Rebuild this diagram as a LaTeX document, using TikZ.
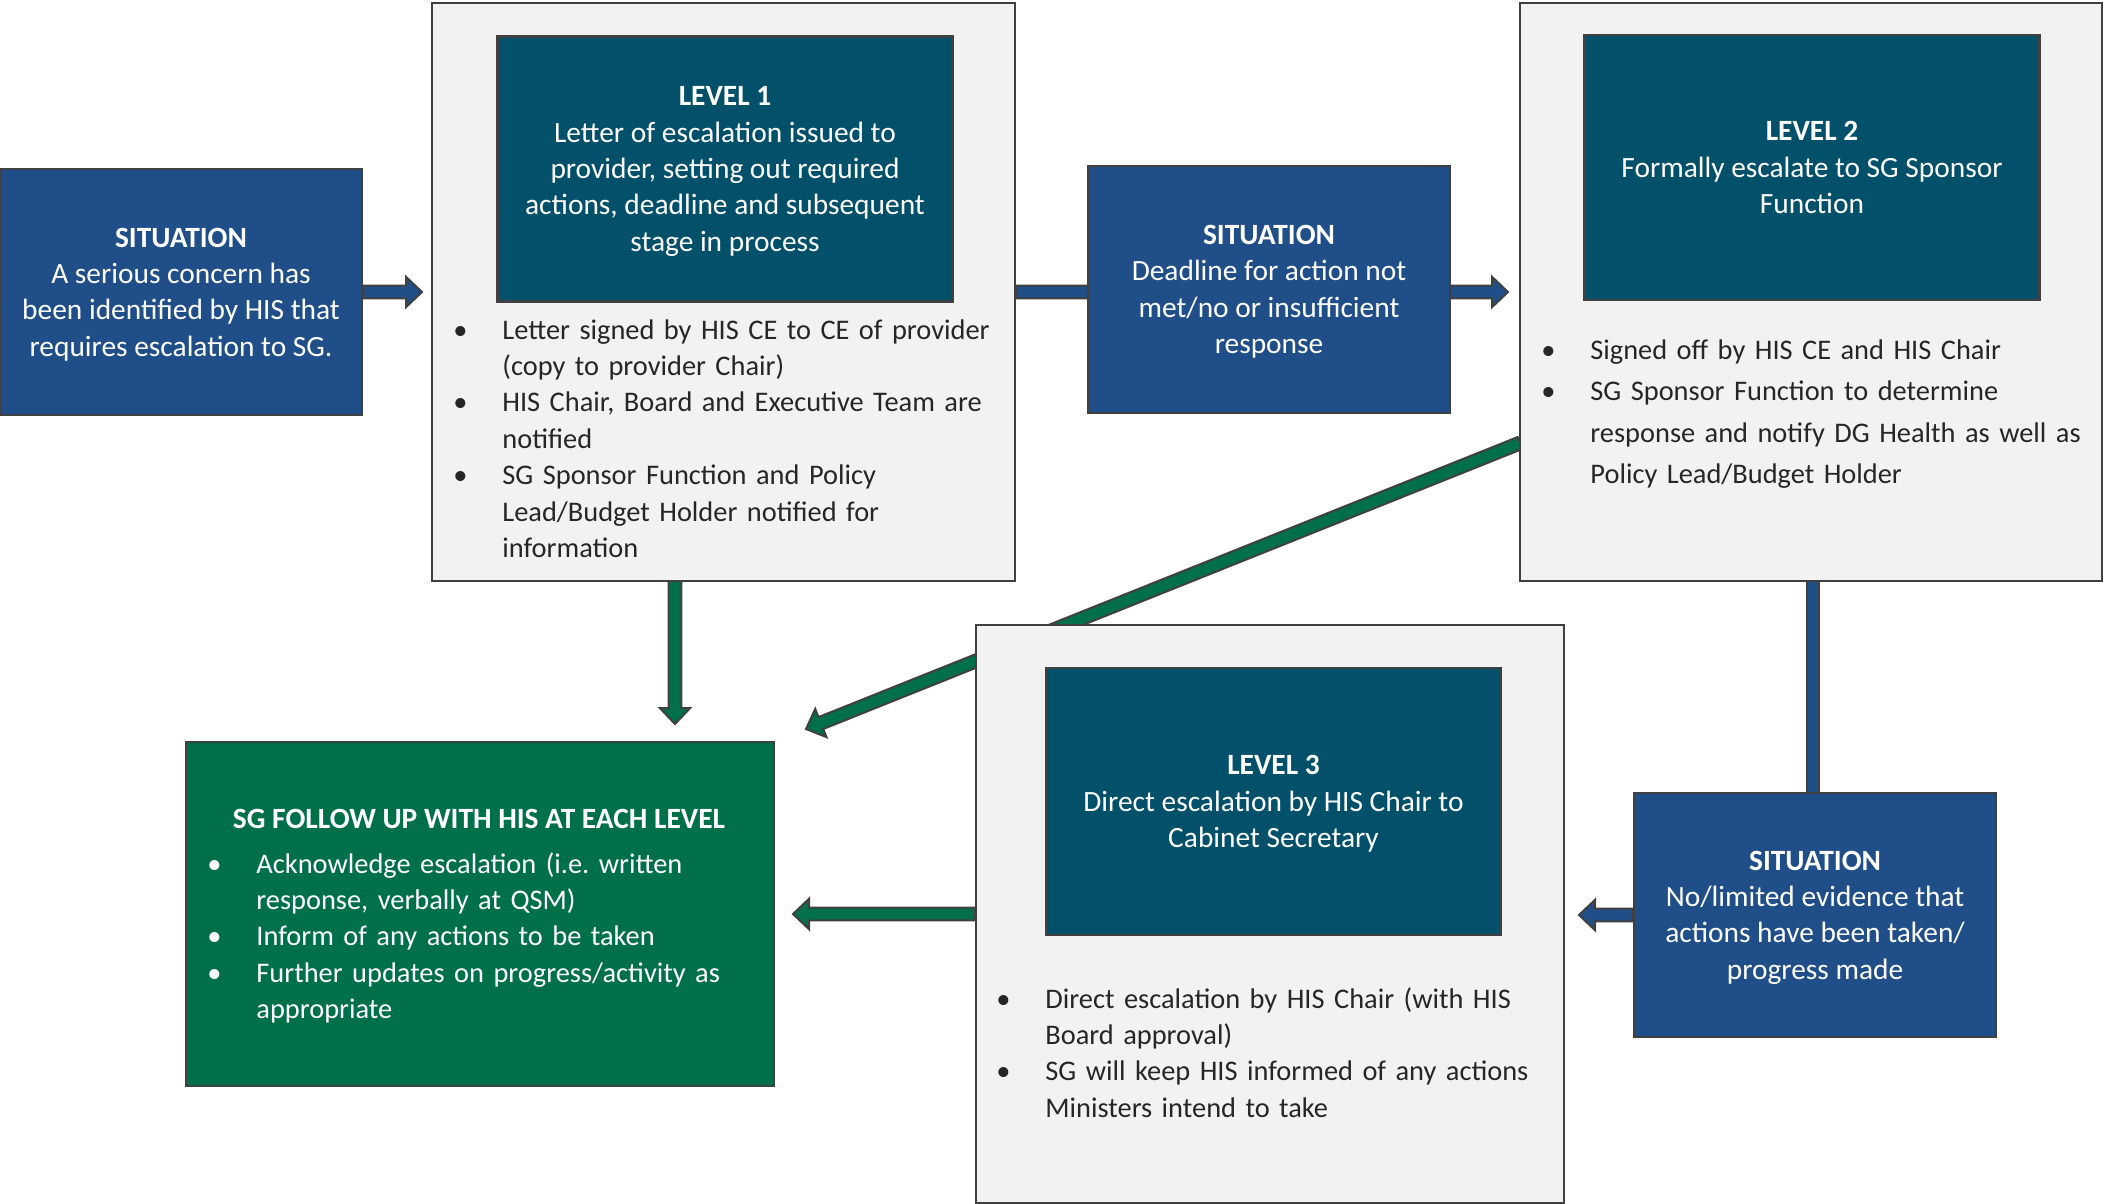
\documentclass[tikz,border=0pt]{standalone}
\usepackage{fontspec}
\setmainfont{Carlito}
\usetikzlibrary{calc,backgrounds}

\definecolor{sitblue}{HTML}{1F4E89}
\definecolor{levteal}{HTML}{03506B}
\definecolor{sggreen}{HTML}{00704A}
\definecolor{panelgrey}{HTML}{F2F2F2}
\definecolor{edgegrey}{HTML}{404040}
\definecolor{bodytext}{HTML}{262626}

\newcommand{\boxfont}{\fontsize{14.7pt}{18.2pt}\selectfont}
\newcommand{\listfont}{\fontsize{14.2pt}{18.2pt}\selectfont}
\newcommand{\bitem}[1]{\noindent\hangindent=21pt\hangafter=1\makebox[21pt][l]{\hspace{-3.5pt}\textbullet}#1\par}
% block arrow: from, tip, fill colour
\newcommand{\blockarrow}[3]{%
  \coordinate (ah) at ($(#2)!8pt!(#1)$);
  \filldraw[arrowedge, fill=#3] ($(#1)!3.2pt!90:(#2)$) -- ($(ah)!3.2pt!-90:(#1)$) -- ($(ah)!7.6pt!-90:(#1)$) -- (#2)
    -- ($(ah)!7.6pt!90:(#1)$) -- ($(ah)!3.2pt!90:(#1)$) -- ($(#1)!3.2pt!-90:(#2)$) -- cycle;}

\begin{document}
\frenchspacing
\begin{tikzpicture}[x=0.5pt,y=-0.5pt,every node/.style={inner sep=0pt,font=\boxfont},
  sitbox/.style={draw=edgegrey,line width=1.25pt,fill=sitblue,text=white,align=center,text depth=0pt,minimum width=181pt},
  levbox/.style={draw=edgegrey,line width=1.25pt,fill=levteal,text=white,align=center,text depth=0pt,minimum width=227.5pt,minimum height=132.5pt},
  panel/.style={draw=edgegrey,line width=1.25pt,fill=panelgrey,minimum height=289pt},
  sgbox/.style={draw=edgegrey,line width=1.25pt,fill=sggreen},
  bullets/.style={anchor=base west,text=bodytext,text width=400pt,font=\listfont},
  arrowedge/.style={draw=edgegrey,line width=1pt,line join=miter}]
 \useasboundingbox (0,0) rectangle (2103,1204);

 \node[sitbox,minimum height=123pt] (s1) at (181,292) {\textbf{SITUATION}\\A serious concern has\\been identified by HIS that\\requires escalation to SG.};

 \node[panel,minimum width=291.5pt] (l1) at (723.5,292) {};
 \node[levbox] (l1t) at (725,169) {\textbf{LEVEL 1}\\Letter of escalation issued to\\provider, setting out required\\actions, deadline and subsequent\\stage in process};
 \node[bullets] (l1b) at (460,339) {%
  \bitem{Letter signed by HIS CE to CE of provider\newline(copy to provider Chair)}%
  \bitem{HIS Chair, Board and Executive Team are\newline notified}%
  \bitem{SG Sponsor Function and Policy\newline Lead/Budget Holder notified for\newline information}};

 \node[sitbox,minimum height=123.5pt] (s2) at (1269,289.5) {\textbf{SITUATION}\\Deadline for action not\\met/no or insufficient\\response};

 \node[panel,minimum width=291pt] (l2) at (1811,292) {};
 \node[levbox] (l2t) at (1812,167.5) {\textbf{LEVEL 2}\\Formally escalate to SG Sponsor\\Function};
 \node[bullets,font=\fontsize{14.2pt}{20.8pt}\selectfont] (l2b) at (1548,359) {%
  \bitem{Signed off by HIS CE and HIS Chair}%
  \bitem{SG Sponsor Function to determine\newline response and notify DG Health as well as\newline Policy Lead/Budget Holder}};

 \node[sgbox,minimum width=294pt,minimum height=172pt] (sg) at (480,914) {};
 \node[text=white] (sgh) at (479,819) {\textbf{SG FOLLOW UP WITH HIS AT EACH LEVEL}};
 \node[bullets,text=white] (sgb) at (214,873) {%
  \bitem{Acknowledge escalation (i.e. written\newline response, verbally at QSM)}%
  \bitem{Inform of any actions to be taken}%
  \bitem{Further updates on progress/activity as\newline appropriate}};

 \node[panel,minimum width=294pt] (l3) at (1270,914) {};
 \node[levbox,minimum height=133.5pt] (l3t) at (1273.5,801.5) {\textbf{LEVEL 3}\\Direct escalation by HIS Chair to\\Cabinet Secretary};
 \node[bullets] (l3b) at (1003,1008) {%
  \bitem{Direct escalation by HIS Chair (with HIS\newline Board approval)}%
  \bitem{SG will keep HIS informed of any actions\newline Ministers intend to take}};

 \node[sitbox,minimum height=122pt] (s3) at (1815,915) {\textbf{SITUATION}\\No/limited evidence that\\actions have been taken/\\progress made};

 % arrow ends
 \coordinate (t1) at (422,292);
 \coordinate (t2) at (1508,292);
 \coordinate (f3) at (675,581);
 \coordinate (t3) at (675,724);
 \coordinate (f4) at (1520,443);
 \coordinate (t4) at (806,729);
 \coordinate (f5) at (1813,581);
 \coordinate (t5) at (1813,800);
 \coordinate (t6) at (1579,915);
 \coordinate (t7) at (793,914);

 \begin{scope}[on background layer]
 \foreach \from/\to/\col in {s1.east/t1/sitblue,l1.east/t2/sitblue,f3/t3/sggreen,f4/t4/sggreen,s3.west/t6/sitblue,l3.west/t7/sggreen}
  \blockarrow{\from}{\to}{\col};
 \filldraw[arrowedge,fill=sitblue] ($(f5)+(-6.4,0)$) rectangle ($(t5)+(6.4,0)$);
 \end{scope}
\end{tikzpicture}
\end{document}
